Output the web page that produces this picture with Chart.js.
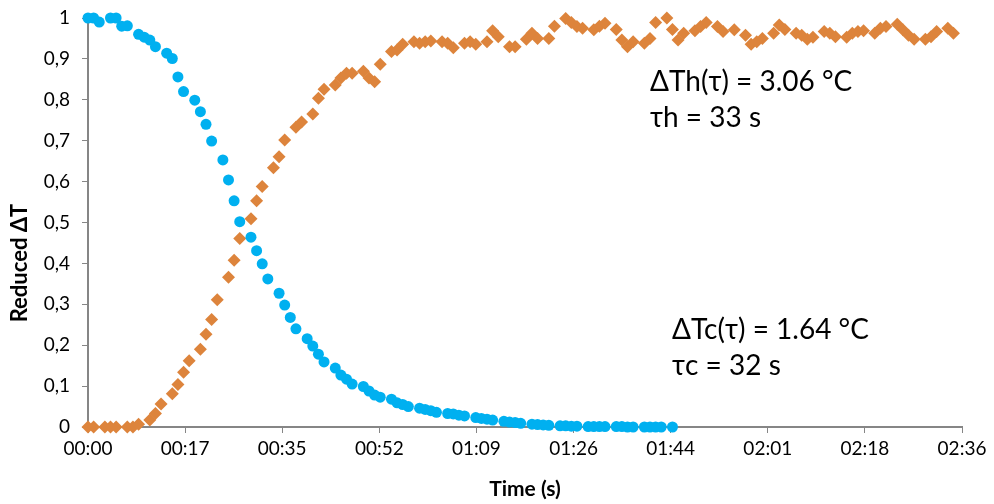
<!DOCTYPE html>
<html>
<head>
<meta charset="utf-8">
<script src="https://cdn.jsdelivr.net/npm/chart.js@4"></script>
<style>
  html, body { margin: 0; padding: 0; background: #fff; }
  #wrap { width: 994px; height: 504px; }
</style>
</head>
<body>
<div id="wrap"><canvas id="chart" width="994" height="504"></canvas></div>
<script>
// Cold side (blue circles): time in s, reduced dT
const coldTime = [0, 1, 2, 4, 5, 6, 7, 9, 10, 11, 12, 14, 15, 16, 17, 19, 20, 21, 22, 24,
  25, 26, 27, 29, 30, 31, 32, 34, 35, 36, 37, 39, 40, 41, 42, 44, 45, 46, 47, 49,
  50, 51, 52, 54, 55, 56, 57, 59, 60, 61, 62, 64, 65, 66, 67, 69, 70, 71, 72, 74,
  75, 76, 77, 79, 80, 81, 82, 84, 85, 86, 87, 89, 90, 91, 92, 94, 95, 96, 97, 99,
  100, 101, 102, 104];
const coldValue = [1.0, 1.0, 0.99, 1.0, 1.0, 0.98, 0.981, 0.96, 0.953, 0.946, 0.93, 0.914, 0.901, 0.856, 0.82, 0.799, 0.771, 0.74, 0.699, 0.653,
  0.604, 0.553, 0.502, 0.464, 0.431, 0.399, 0.362, 0.327, 0.298, 0.268, 0.24, 0.216, 0.198, 0.178, 0.159, 0.144, 0.127, 0.117, 0.105, 0.099,
  0.088, 0.078, 0.073, 0.068, 0.059, 0.055, 0.05, 0.046, 0.043, 0.04, 0.036, 0.033, 0.032, 0.029, 0.027, 0.023, 0.021, 0.019, 0.017, 0.014,
  0.012, 0.011, 0.009, 0.007, 0.006, 0.005, 0.004, 0.003, 0.003, 0.002, 0.002, 0.001, 0.001, 0.001, 0.001, 0.001, 0.001, 0, 0, 0,
  0, 0, 0, 0];

// Hot side (orange diamonds)
const hotTime = [0, 1, 3, 4, 5, 7, 8, 9, 11, 12, 13, 15, 16, 17, 18, 20, 21, 22, 23, 25,
  26, 27, 29, 30, 31, 33, 34, 35, 37, 38, 40, 41, 42, 44, 45, 46, 47, 49, 50, 51,
  52, 54, 55, 56, 58, 59, 60, 61, 63, 64, 65, 67, 68, 69, 71, 72, 73, 75, 76, 78,
  79, 80, 82, 83, 85, 86, 87, 88, 90, 91, 92, 94, 95, 96, 97, 99, 100, 101, 103, 104,
  105, 106, 108, 109, 110, 112, 113, 115, 117, 118, 119, 120, 122, 123, 124, 126, 127, 128, 129, 131,
  132, 133, 135, 136, 137, 138, 140, 141, 142, 144, 145, 146, 147, 149, 150, 151, 153, 154];
const hotValue = [0, 0, 0, 0, 0, 0, 0, 0.007, 0.017, 0.033, 0.056, 0.081, 0.104, 0.134, 0.162, 0.19, 0.227, 0.263, 0.311, 0.366,
  0.408, 0.461, 0.509, 0.553, 0.588, 0.634, 0.661, 0.702, 0.733, 0.746, 0.765, 0.804, 0.826, 0.836, 0.853, 0.865, 0.865, 0.87, 0.853, 0.844,
  0.887, 0.918, 0.922, 0.936, 0.942, 0.938, 0.942, 0.944, 0.942, 0.938, 0.927, 0.938, 0.942, 0.936, 0.942, 0.969, 0.954, 0.93, 0.93, 0.948,
  0.963, 0.95, 0.95, 0.98, 0.999, 0.989, 0.979, 0.975, 0.971, 0.98, 0.987, 0.972, 0.946, 0.93, 0.942, 0.938, 0.95, 0.989, 1.0, 0.972,
  0.946, 0.963, 0.969, 0.979, 0.989, 0.979, 0.967, 0.971, 0.958, 0.936, 0.942, 0.95, 0.963, 0.983, 0.972, 0.963, 0.958, 0.948, 0.953, 0.967,
  0.963, 0.954, 0.953, 0.963, 0.967, 0.969, 0.963, 0.975, 0.979, 0.985, 0.971, 0.958, 0.948, 0.948, 0.954, 0.967, 0.975, 0.963];

// Excel time axis: major unit 0.0002 day = 17.28 s
const xTickValues = [0, 17.28, 34.56, 51.84, 69.12, 86.4, 103.68, 120.96, 138.24, 155.52];
const xTickLabels = ["00:00", "00:17", "00:35", "00:52", "01:09", "01:26", "01:44", "02:01", "02:18", "02:36"];

const yTitle = "Reduced \u0394T";

const notes = [
  { text: "\u0394Th(\u03c4) = 3.06 \u00b0C", x: 650, y: 82 },
  { text: "\u03c4h = 33 s", x: 650, y: 118 },
  { text: "\u0394Tc(\u03c4) = 1.64 \u00b0C", x: 672, y: 330 },
  { text: "\u03c4c = 32 s", x: 672, y: 366 }
];

const FONT = "Lato, 'Open Sans', sans-serif";
const AXIS = "#868686";

// texte libre sur le graphique + titre de l'axe Y
const notesPlugin = {
  id: "notes",
  afterDraw(chart) {
    const ctx = chart.ctx;
    ctx.save();
    ctx.fillStyle = "#000";
    ctx.font = "28px " + FONT;
    ctx.textBaseline = "middle";
    ctx.textAlign = "left";
    notes.forEach((n) => ctx.fillText(n.text, n.x, n.y));

    ctx.translate(20, 263);
    ctx.rotate(-Math.PI / 2);
    ctx.textAlign = "center";
    ctx.font = "bold 22px " + FONT;
    ctx.fillText(yTitle, 0, 0);
    ctx.restore();
  },
};

const bgPlugin = {
  id: "bg",
  beforeDraw(chart) {
    const ctx = chart.ctx;
    ctx.save();
    ctx.fillStyle = "#fff";
    ctx.fillRect(0, 0, chart.width, chart.height);
    ctx.restore();
  },
};

const chart = new Chart(document.getElementById("chart").getContext("2d"), {
  type: "scatter",
  data: {
    datasets: [
      {
        label: "cold",
        data: coldTime.map((t, i) => ({ x: t, y: coldValue[i] })),
        pointStyle: "circle",
        pointRadius: 5.5,
        backgroundColor: "#00B0F0",
        borderColor: "#00B0F0",
        borderWidth: 0,
        clip: false,
      },
      {
        label: "hot",
        data: hotTime.map((t, i) => ({ x: t, y: hotValue[i] })),
        pointStyle: "rectRot",
        pointRadius: 6.5,
        backgroundColor: "#DD843C",
        borderColor: "#DD843C",
        borderWidth: 0,
        clip: false,
      },
    ],
  },
  options: {
    responsive: false,
    animation: false,
    events: [],
    layout: { padding: { left: 0, right: 32, top: 18, bottom: 0 } },
    plugins: { legend: { display: false }, tooltip: { enabled: false } },
    scales: {
      x: {
        type: "linear",
        min: 0,
        max: 155.52,
        afterBuildTicks: (scale) => {
          scale.ticks = xTickValues.map((v) => ({ value: v }));
        },
        afterFit: (scale) => {
          scale.height = 77;
          scale.paddingLeft = 0;
          scale.paddingRight = 0;
        },
        ticks: {
          color: "#000",
          font: { family: FONT, size: 19 },
          padding: 4,
          maxRotation: 0,
          autoSkip: false,
          callback: (v, i) => xTickLabels[i],
        },
        grid: { drawOnChartArea: false, color: AXIS, tickLength: 6 },
        border: { color: AXIS, width: 2 },
        title: {
          display: true,
          text: "Time (s)",
          color: "#000",
          font: { family: FONT, size: 21, weight: "bold" },
          padding: { top: 4, bottom: 2 },
        },
      },
      y: {
        min: 0,
        max: 1,
        afterFit: (scale) => {
          scale.width = 88;
          scale.paddingTop = 0;
          scale.paddingBottom = 0;
        },
        ticks: {
          stepSize: 0.1,
          color: "#000",
          font: { family: FONT, size: 19 },
          padding: 12,
          callback: (v) => String(Math.round(v * 10) / 10).replace(".", ","),
        },
        grid: { drawOnChartArea: false, color: AXIS, tickLength: 6 },
        border: { color: AXIS, width: 2 },
      },
    },
  },
  plugins: [bgPlugin, notesPlugin],
});
</script>
</body>
</html>
